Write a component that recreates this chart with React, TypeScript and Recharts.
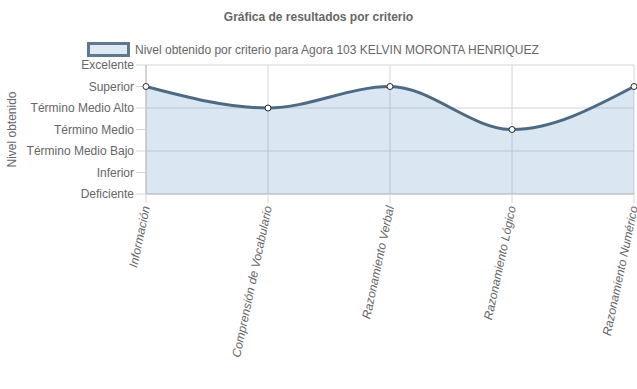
import { AreaChart, Area, XAxis, YAxis, CartesianGrid, Label } from 'recharts';

const criterios = [
  'Información',
  'Comprensión de Vocabulario',
  'Razonamiento Verbal',
  'Razonamiento Lógico',
  'Razonamiento Numérico',
];

// 0 = Deficiente ... 6 = Excelente
const niveles = [5, 4, 5, 3, 5];

const nivelLabels = [
  'Deficiente',
  'Inferior',
  'Término Medio Bajo',
  'Término Medio',
  'Término Medio Alto',
  'Superior',
  'Excelente',
];

const data = criterios.map((c, i) => ({ criterio: c, nivel: niveles[i] }));

const FONT = 'Arial, "Liberation Sans", Helvetica, sans-serif';
const LINE = '#4d6a85';
const FILL = '#dae7f3';
const GRID = '#d4d4d4';

function XTick(props: any) {
  const { x, y, payload } = props;
  return (
    <text
      x={x + 4}
      y={y + 2}
      textAnchor="end"
      fontFamily={FONT}
      fontSize={12}
      fontStyle="italic"
      fill="#666"
      transform={`rotate(-78, ${x + 4}, ${y + 2})`}
    >
      {payload.value}
    </text>
  );
}

function Dot(props: any) {
  const { cx, cy } = props;
  if (cx == null || cy == null) return null;
  return <circle cx={cx} cy={cy} r={3} fill="#fff" stroke="#2b2b2b" strokeWidth={1} />;
}

export default function App() {
  return (
    <div style={{ position: 'absolute', left: 0, top: 0, width: 637, height: 389, background: '#fff' }}>
      <div
        style={{
          position: 'absolute',
          top: 10,
          left: 0,
          width: 637,
          textAlign: 'center',
          fontFamily: FONT,
          fontSize: 12,
          fontWeight: 'bold',
          color: '#666',
        }}
      >
        Gráfica de resultados por criterio
      </div>
      <div
        style={{
          position: 'absolute',
          top: 42,
          left: 87,
          display: 'flex',
          alignItems: 'center',
          fontFamily: FONT,
          fontSize: 12,
          color: '#666',
        }}
      >
        <span
          style={{
            display: 'inline-block',
            width: 37,
            height: 9,
            background: FILL,
            border: `3px solid ${LINE}`,
            marginRight: 5,
            opacity: 0.9,
          }}
        />
        Nivel obtenido por criterio para Agora 103 KELVIN MORONTA HENRIQUEZ
      </div>
      <AreaChart
        width={637}
        height={389}
        data={data}
        margin={{ top: 65, right: 3, left: 0, bottom: 20 }}
      >
        <CartesianGrid stroke={GRID} strokeWidth={1} />
        <XAxis
          dataKey="criterio"
          interval={0}
          height={175}
          tick={<XTick />}
          tickSize={9}
          tickLine={{ stroke: GRID }}
          axisLine={{ stroke: '#bdbdbd' }}
        />
        <YAxis
          type="number"
          domain={[0, 6]}
          ticks={[0, 1, 2, 3, 4, 5, 6]}
          width={146}
          tickSize={10}
          tickLine={{ stroke: GRID }}
          axisLine={{ stroke: '#bdbdbd' }}
          tickFormatter={(v: number) => nivelLabels[v]}
          tick={{ fontFamily: FONT, fontSize: 12, fill: '#666' }}
        >
          <Label
            value="Nivel obtenido"
            angle={-90}
            position="insideLeft"
            offset={12}
            style={{ fontFamily: FONT, fontSize: 12, fill: '#666', textAnchor: 'middle' }}
          />
        </YAxis>
        <Area
          type="monotone"
          dataKey="nivel"
          stroke={LINE}
          strokeWidth={3}
          fill="#5f96cd"
          fillOpacity={0.23}
          dot={<Dot />}
          activeDot={false}
          isAnimationActive={false}
        />
      </AreaChart>
    </div>
  );
}
